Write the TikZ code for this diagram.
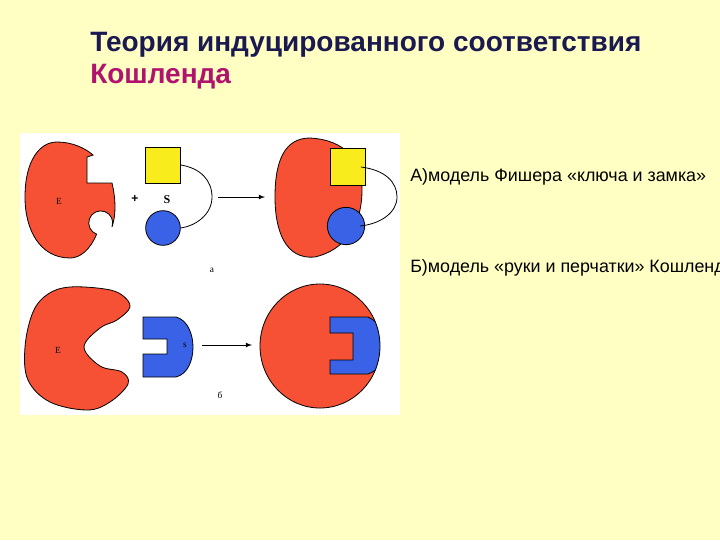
\documentclass[tikz,border=0pt]{standalone}
\usepackage{fontspec}
\setmainfont{Liberation Sans}
\newfontfamily\serifE{Liberation Serif}
\definecolor{bg}{HTML}{FFFFC4}
\definecolor{titlec}{HTML}{1A1A50}
\definecolor{magc}{HTML}{B0126E}
\definecolor{enz}{HTML}{F65134}
\definecolor{sub}{HTML}{3A62E6}
\definecolor{yel}{HTML}{F8EC1C}
\begin{document}
\begin{tikzpicture}[x=0.75pt,y=-0.75pt,
  enzyme/.style={fill=enz,draw=black,line width=0.6pt},
  substrate/.style={fill=sub,draw=black,line width=0.6pt},
  yelbox/.style={fill=yel,draw=black,line width=0.6pt},
  arr/.style={-latex,line width=0.6pt},
  lab/.style={font=\serifE\fontsize{7}{8}\selectfont,inner sep=0pt},
  desc/.style={font=\fontsize{13.4}{15}\selectfont,anchor=west,inner sep=0pt}]
\clip (0,0) rectangle (720,540);
\fill[bg] (0,0) rectangle (720,540);
\node[anchor=west,inner sep=0pt,font=\bfseries\fontsize{21}{25}\selectfont,text=titlec] (t1) at (90,45) {Теория индуцированного соответствия};
\node[anchor=west,inner sep=0pt,font=\bfseries\fontsize{21}{25}\selectfont,text=magc] (t2) at (90,77) {Кошленда};
\fill[white] (20,133) rectangle (400,415);
% top left enzyme
\draw[enzyme] (93,155) -- (87,157) -- (87,183) -- (112,183)
  .. controls (116,200) and (116,215) .. (112,227)
  arc[start angle=20,end angle=-250,radius=12]
  .. controls (90,250) and (80,258) .. (70,258)
  .. controls (40,258) and (25,230) .. (25,197)
  .. controls (25,160) and (40,142) .. (57,142)
  .. controls (72,142) and (85,148) .. (93,155) -- cycle;
\node[lab] (e1) at (59,201) {E};
\node[font=\bfseries\fontsize{9}{10}\selectfont,inner sep=0pt] (plus) at (135,199) {+};
\node[font=\serifE\bfseries\fontsize{9}{10}\selectfont,inner sep=0pt] (s1) at (167,200) {S};
\node[yelbox,minimum width=26,minimum height=27,inner sep=0pt] (sq1) at (163,165.5) {};
\node[substrate,circle,minimum size=26,inner sep=0pt] (c1) at (163,228) {};
\draw[line width=0.6pt] (sq1.east|-163,165) .. controls (200,168) and (212,180) .. (212,197)
  .. controls (212,215) and (195,226) .. (c1.east);
\coordinate (a1s) at (218,197); \coordinate (a1e) at (265,197);
\draw[arr] (a1s) -- (a1e);
% top right enzyme
\draw[enzyme] (310,138) .. controls (345,140) and (362,160) .. (362,190)
  .. controls (362,225) and (345,250) .. (315,257)
  .. controls (285,260) and (275,230) .. (275,197)
  .. controls (275,160) and (285,138) .. (310,138) -- cycle;
\node[yelbox,minimum width=26,minimum height=28,inner sep=0pt] (sq2) at (348,167) {};
\node[substrate,circle,minimum size=28,inner sep=0pt] (c2) at (346,226) {};
\draw[line width=0.6pt] (361,167) .. controls (385,170) and (397,182) .. (397,197)
  .. controls (397,213) and (380,224) .. (360,226);
\node[lab] (la) at (212,270) {а};
% bottom left enzyme (pacman)
\draw[enzyme] plot[smooth cycle,tension=0.6] coordinates {(70,287) (105,289) (122,295) (130,307) (117,320) (100,328) (84,347) (100,366) (122,372) (128,384) (110,402) (87,410) (50,402) (28,380) (25,347) (33,312) (48,294)};
\node[lab] (e2) at (58,350) {E};
\draw[substrate] (143,317) -- (176,317) .. controls (188,320) and (193,335) .. (193,347)
  .. controls (193,360) and (188,374) .. (176,377) -- (143,377) -- (143,354) -- (167,354)
  -- (167,339) -- (143,339) -- cycle;
\node[lab] (s2) at (185,345) {s};
\coordinate (a2s) at (202,345); \coordinate (a2e) at (252,345);
\draw[arr] (a2s) -- (a2e);
\fill[enz] (320,346) ellipse[x radius=60,y radius=62];
\begin{scope}
\clip (320,346) ellipse[x radius=60,y radius=62];
\draw[substrate] (330,317) -- (368,317) .. controls (380,322) and (385,335) .. (385,347)
  .. controls (385,360) and (380,370) .. (368,374) -- (330,374) -- (330,360) -- (353,360)
  -- (353,333) -- (330,333) -- cycle;
\end{scope}
\draw[line width=0.6pt] (320,346) ellipse[x radius=60,y radius=62];
\node[lab] (lb) at (220,395) {б};
\node[desc] (da) at (410,177) {А)модель Фишера «ключа и замка»};
\node[desc] (db) at (410,268) {Б)модель «руки и перчатки» Кошленда};
\end{tikzpicture}
\end{document}
